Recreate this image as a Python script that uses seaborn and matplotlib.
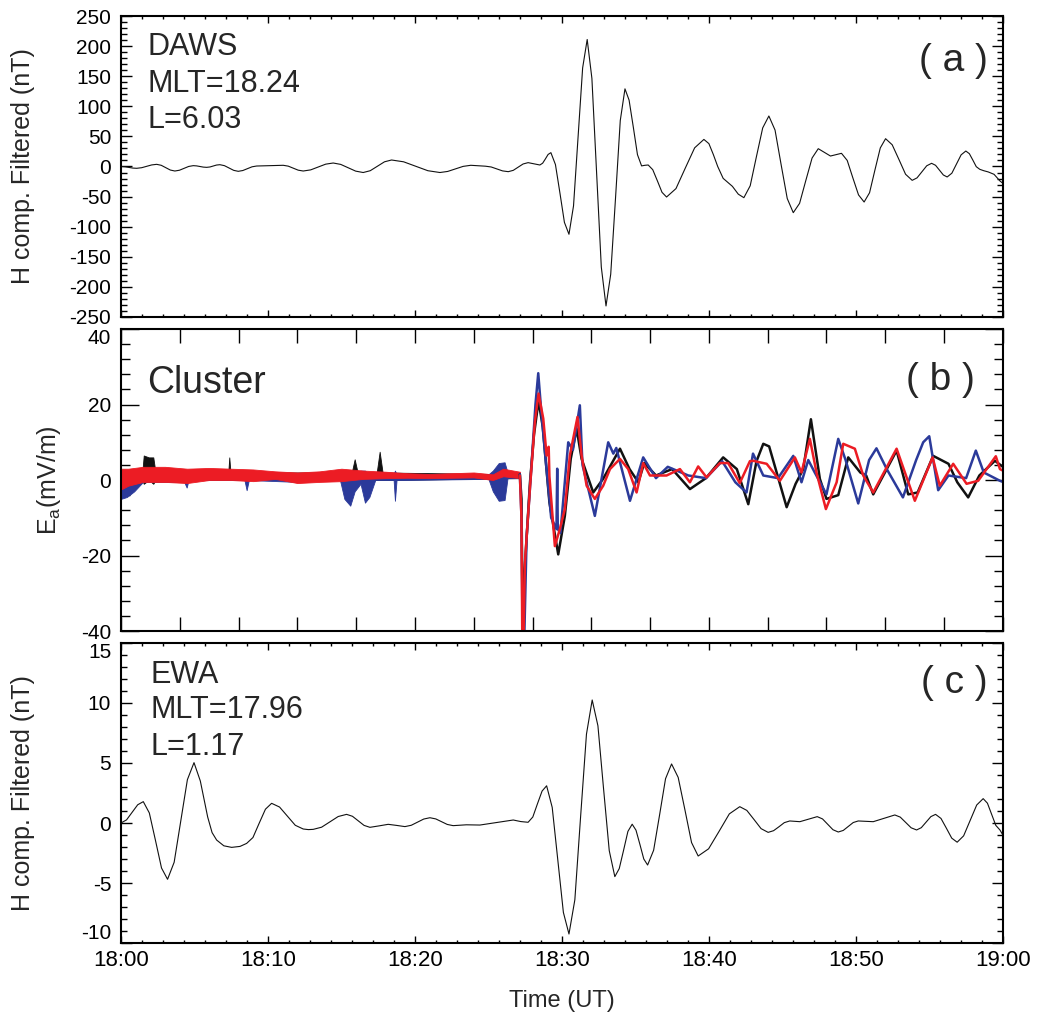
import numpy as np
import pandas as pd
import matplotlib
matplotlib.use("Agg")
import matplotlib.pyplot as plt
from matplotlib.ticker import MultipleLocator, FixedLocator, FixedFormatter
import seaborn as sns

# ---------------- data (minutes after 18:00 UT) ----------------
daws_t = [0.0, 0.27, 0.53, 0.80, 1.07, 1.41, 1.75, 2.09, 2.43, 2.74, 3.05, 3.36, 3.67, 3.98, 4.3,
          4.61, 4.92, 5.15, 5.38, 5.6, 5.83, 6.06, 6.28, 6.5, 6.73, 7.04, 7.36, 7.67, 7.98, 8.29,
          8.6, 8.92, 9.23, 10.1, 11.04, 11.38, 11.72, 12.06, 12.4, 12.91, 13.42, 13.93, 14.44,
          14.95, 15.46, 15.97, 16.48, 16.96, 17.45, 17.93, 18.41, 19.23, 20.06, 20.88, 21.7,
          22.23, 22.75, 23.28, 23.8, 24.3, 24.8, 25.19, 25.58, 25.96, 26.35, 26.69, 27.03,
          27.36, 27.7, 28.1, 28.5, 28.69, 28.88, 29.06, 29.25, 29.56, 29.87, 30.17, 30.48,
          30.79, 31.1, 31.41, 31.72, 32.04, 32.36, 32.68, 33.0, 33.32, 33.65, 33.97, 34.29,
          34.57, 34.86, 35.14, 35.42, 35.65, 35.87, 36.18, 36.5, 36.81, 37.12, 37.76, 38.39,
          39.03, 39.66, 40.0, 40.3, 40.6, 40.97, 41.6, 42.0, 42.38, 42.81, 43.23, 43.66, 44.08,
          44.5, 44.91, 45.33, 45.74, 46.17, 46.59, 47.02, 47.44, 47.85, 48.27, 48.65, 49.02,
          49.41, 49.79, 50.18, 50.56, 50.93, 51.29, 51.66, 52.02, 52.47, 52.93, 53.38, 53.83,
          54.16, 54.49, 54.82, 55.15, 55.42, 55.68, 55.95, 56.21, 56.53, 56.85, 57.16, 57.48,
          57.72, 57.96, 58.19, 58.43, 58.7, 59.0, 59.4, 59.8, 60.0]
daws_h = [0, -0.4, -1.5, -2.6, -3, -2.0, 0.3, 2.6, 3.6, 2.0, -1.95, -5.9, -7.5, -6.2, -3.05,
          0.1, 1.4, 1.0, 0, -1.0, -1.4, -0.76, 0.8, 2.4, 3, 1.4, -2.5, -6.4, -8, -6.7,
          -3.6, -0.5, 0.8, 1.4, 2, 0.6, -2.75, -6.1, -7.5, -5.6, -0.85, 3.9, 5.8,
          3.5, -2.1, -7.7, -10, -7.0, 0.4, 7.8, 10.8, 7.8, 0.4, -7.0, -10,
          -8.2, -4, 0.2, 2, 1.3, 0.5, -0.8, -4.05, -7.3, -8.6, -6.4, -1.1,
          4.2, 6.4, 4.5, 2.5, 5.5, 12.75, 20, 23, 3.2, -44.8, -92.8, -112.6,
          -65.4, 49.2, 163.8, 211, 146.4, -10.4, -167.1, -231.7, -179, -51.4, 76.3, 129,
          110.3, 65, 19.7, 1, 2, 2.5, -5.3, -24.1, -42.9, -50.7, -36.7, -2.85,
          31, 45, 38, 20, 0, -19.7, -33, -46, -51.8, -32, 16, 64.1, 83.9,
          60.5, 3.6, -53.2, -76.7, -61.2, -23.6, 14.1, 29.6, 23.5, 17.4, 19.6, 21.9,
          10.1, -18.6, -47.2, -59, -43.6, -6.4, 30.8, 46.2, 36.1, 11.6, -12.9, -23,
          -18.9, -8.9, 1.2, 5.3, 2, -6, -14.1, -17.4, -11.1, 4.2, 19.4, 25.7,
          21.3, 10.5, -0.3, -4.7, -7, -9, -13, -24, -28]

ewa_t = [0.0, 0.38, 0.76, 1.14, 1.52, 1.93, 2.35, 2.76, 3.17, 3.62, 4.07, 4.52, 4.97, 5.4, 5.9,
         6.2, 6.51, 7.0, 7.53, 8.1, 8.55, 8.98, 9.4, 9.83, 10.25, 10.79, 11.33, 11.86, 12.4,
         12.75, 13.08, 13.65, 14.22, 14.78, 15.35, 15.75, 16.15, 16.54, 16.94, 17.56, 18.18,
         18.75, 19.32, 19.75, 20.17, 20.6, 21.02, 21.42, 21.81, 22.2, 22.6, 23.5, 24.42, 25.55,
         26.69, 27.2, 27.7, 28.02, 28.33, 28.65, 28.96, 29.34, 29.72, 30.1, 30.48, 30.88, 31.27,
         31.67, 32.06, 32.45, 32.83, 33.22, 33.6, 33.9, 34.19, 34.49, 34.78, 35.04, 35.31, 35.57,
         35.83, 36.24, 36.65, 37.05, 37.46, 37.91, 38.37, 38.82, 39.27, 39.98, 40.69, 41.39,
         42.1, 42.58, 43.07, 43.55, 44.03, 44.4, 44.77, 45.13, 45.5, 45.85, 46.19, 46.78, 47.37,
         47.73, 48.09, 48.44, 48.8, 49.14, 49.48, 49.82, 50.16, 50.67, 51.18, 51.92, 52.65,
         53.02, 53.39, 53.76, 54.13, 54.45, 54.78, 55.1, 55.42, 55.79, 56.16, 56.52, 56.89,
         57.33, 57.78, 58.22, 58.66, 58.95, 59.23, 59.52, 59.8, 60.0]
ewa_h = [0, 0.26, 0.89, 1.52, 1.78, 0.84, -1.46, -3.75, -4.69, -3.27, 0.17, 3.61, 5.03, 3.5, 0.5,
         -0.8, -1.42, -1.9, -2.03, -1.95, -1.7, -1.21, -0.03, 1.15, 1.64, 1.33, 0.57, -0.19, -0.5,
         -0.55, -0.53, -0.35, 0.1, 0.54, 0.72, 0.56, 0.18, -0.2, -0.36, -0.24, -0.11,
         -0.2, -0.3, -0.19, 0.07, 0.33, 0.44, 0.34, 0.11, -0.12, -0.22, -0.15, -0.17, 0.04,
         0.25, 0.12, 0.06, 0.5, 1.58, 2.66, 3.1, 1.3, -3.08, -7.45, -9.25, -6.4, 0.5,
         7.4, 10.25, 8.1, 2.9, -2.3, -4.47, -3.8, -2.3, -0.7, -0.1, -0.6, -1.8, -3.0,
         -3.5, -2.27, 0.71, 3.69, 4.92, 3.8, 1.09, -1.63, -2.75, -2.15, -0.7, 0.76,
         1.36, 1.05, 0.29, -0.47, -0.78, -0.64, -0.31, 0.03, 0.17, 0.14, 0.11, 0.32, 0.53,
         0.34, -0.11, -0.56, -0.75, -0.62, -0.29, 0.04, 0.17, 0.14, 0.11, 0.39, 0.67,
         0.49, 0.05, -0.4, -0.58, -0.39, 0.07, 0.53, 0.72, 0.38, -0.44, -1.26, -1.6,
         -1.07, 0.22, 1.5, 2.03, 1.65, 0.73, -0.2, -0.58, -1.0]

# Cluster E_a, quiet interval: noise envelopes (t, low, high)
black_env_t = [0.0, 1.45, 1.55, 1.9, 2.2, 2.35, 7.3, 7.37, 7.45, 15.7, 15.9, 16.1, 17.4, 17.6, 17.8, 27.14]
black_env_lo = [0.0, 0.0, -1.0, 0.0, -1.0, 0.0, 0.0, 0.0, 0.0, 0.0, 0.0, 0.0, 0.0, 0.0, 0.0, 0.5]
black_env_hi = [2.0, 2.0, 6.5, 6.0, 6.0, 2.0, 2.0, 6.0, 2.0, 2.0, 5.5, 2.0, 2.0, 7.5, 2.0, 1.5]

blue_env_t = [0.0, 0.4, 0.9, 1.5, 4.3, 4.47, 4.6, 8.4, 8.55, 8.7, 12.0, 14.9, 15.2, 15.6, 15.9,
              16.3, 16.6, 16.9, 17.3, 18.55, 18.64, 18.75, 25.0, 25.3, 25.7, 26.1, 26.3, 27.14]
blue_env_lo = [-5.0, -4.5, -3.0, -0.5, -0.5, -2.0, 0.0, 0.0, -2.7, 0.0, -0.5, 0.0, -5.0, -6.8, -3.0,
               -1.0, -6.0, -4.5, 0.0, 0.0, -5.5, 0.0, 0.3, -3.0, -5.5, -5.3, 0.5, 0.5]
blue_env_hi = [2.5, 2.0, 2.0, 1.5, 2.0, 1.5, 2.0, 2.0, 1.5, 1.8, 1.5, 1.5, 1.5, 2.5, 2.0,
               2.5, 2.5, 1.5, 1.5, 1.5, 2.5, 1.5, 1.5, 2.5, 4.5, 4.7, 2.0, 2.0]

red_env_t = [0.0, 0.5, 1.5, 3.0, 4.5, 6.0, 7.5, 9.0, 10.5, 12.0, 13.5, 15.0, 16.5, 18.0, 19.5,
             21.0, 22.5, 24.0, 25.3, 26.0, 27.14]
red_env_lo = [-2.5, -1.5, -0.5, -0.5, -0.8, 0.0, 0.0, -0.3, 0.3, -0.8, -0.5, -0.3, 0.3, 0.5, 0.6,
              0.5, 0.6, 0.7, 0.0, 1.0, 0.5]
red_env_hi = [3.0, 3.0, 3.5, 3.5, 3.0, 3.2, 3.0, 2.8, 2.3, 2.0, 2.3, 3.0, 2.5, 2.2, 1.8,
              1.6, 1.8, 2.0, 1.5, 3.0, 2.2]

# Cluster E_a, active interval
black_t = [27.14, 27.25, 27.32, 27.45, 27.82, 28.1, 28.41, 28.7, 29.15, 29.75, 30.2, 30.6, 31.0,
           31.34, 32.13, 32.8, 33.95, 34.6, 35.2, 35.6, 36.4, 37.5, 38.71, 39.8, 40.97, 41.9,
           42.68, 43.24, 43.7, 44.1, 45.29, 45.9, 46.42, 46.94, 47.55, 48.0, 48.8, 49.48, 50.3,
           50.7, 51.18, 52.77, 53.56, 54.2, 55.26, 56.3, 56.9, 57.64, 58.4, 59.46, 60.0]
black_e = [1.5, -5, -35, -25, -1, 12, 21, 14, -5.9, -19.7, -9.5, 5.6, 13.6,
           5.6, -3.3, 0.3, 8.3, 2.9, -0.6, 4.5, 1.2, 2.9, -2.4, 0.5, 6, 2.9,
           -6.4, 5, 9.6, 8.9, -7.2, -1, 2.9, 16.1, 0.3, -5, -4, 6, 2,
           1.2, -3.8, 7.8, -3.8, -3.3, 6.4, 4.3, -0.6, -4.6, 1.2, 5.1, 3.5]

blue_t = [27.14, 27.25, 27.32, 27.45, 27.6, 27.9, 28.2, 28.39, 28.6, 28.9, 29.27, 29.63, 29.68,
          29.72, 29.9, 30.43, 30.75, 31.22, 31.4, 32.24, 33.15, 33.5, 33.7, 34.63, 35.53, 36.4,
          37.2, 38.6, 39.8, 40.9, 41.8, 42.56, 43.0, 43.7, 44.7, 45.74, 46.3, 46.76, 47.2, 48.0,
          48.8, 49.3, 50.16, 50.9, 51.4, 52.1, 53.2, 54.1, 54.58, 54.99, 55.6, 56.3, 57.5,
          58.16, 58.7, 59.8, 60.0]
blue_e = [1.5, -10, -40, -40, -15, 2, 20, 28.3, 18, 5, -10, -13, 3,
          -13, -14, 10, 8, 19.8, 4, -9.5, 10, 7, 8.5, -5.5, 6, 0.5,
          3.5, 1.2, 0.5, 5, -0.6, -3.3, 7, 1.2, 0.5, 6.4, -0.6, 5.3, 2, -3.8,
          10.9, 5.3, -6.2, 5.3, 8.4, 2.9, -4.6, 5.3, 10, 11.6, -2.7, 1.2, 0.5,
          7.8, 2, -0.2, -0.5]

red_t = [27.14, 27.25, 27.30, 27.40, 27.48, 27.82, 28.16, 28.41, 28.73, 28.96, 29.1, 29.15, 29.2,
         29.52, 29.86, 30.2, 30.54, 31.06, 31.34, 31.68, 32.24, 32.81, 33.27, 33.95, 34.51,
         35.08, 35.53, 35.99, 37.12, 38.03, 38.71, 39.27, 39.84, 40.75, 41.31, 42.1, 42.79,
         43.0, 43.93, 44.83, 45.85, 46.3, 46.87, 47.32, 47.96, 48.69, 49.14, 49.93, 50.5,
         51.18, 52.77, 54.01, 55.22, 55.71, 56.62, 57.53, 58.32, 59.52, 59.8, 60.0]
red_e = [1.2, -10, -40, -40, -22, -2.4, 15.4, 22.9, 16.3, 6.5, 8.8, 1.0, -1.5,
         -17.5, -13, -7.7, 6.5, 16.7, 6.5, -1.5, -5, -1.5, 2.9, 5.6, 2.9,
         -3.3, 4.5, 1.2, 1.2, 2.9, -0.6, 3.6, 0.7, 4.5, 4.5, -0.8, 5,
         5.1, 4.3, -0.2, 6, 2, 10.9, 2, -7.7, -0.6, 9.6, 8.3, 1.2,
         -3.3, 8.3, -5.5, 6, -1.5, 4.3, -1, -0.2, 6.3, 2.9, 2.5]

time_ticks = [0, 10, 20, 30, 40, 50, 60]
time_labels = ["18:00", "18:10", "18:20", "18:30", "18:40", "18:50", "19:00"]
ticks_a = [-250, -200, -150, -100, -50, 0, 50, 100, 150, 200, 250]
ticks_b = [-40, -20, 0, 20, 40]
ticks_c = [-10, -5, 0, 5, 10, 15]

# ---------------- styling ----------------
sns.set_theme(style="ticks")
plt.rcParams["font.family"] = ["Liberation Sans", "DejaVu Sans"]
plt.rcParams["axes.linewidth"] = 1.5

C_BLACK = "#111111"
C_BLUE = "#2b3a9a"
C_RED = "#ec1c24"

fig = plt.figure(figsize=(10.4, 10.14), dpi=100)
L, W = 0.1163, 0.848
axa = fig.add_axes([L, 0.6874, W, 0.2968])
axb = fig.add_axes([L, 0.3777, W, 0.2978])
axc = fig.add_axes([L, 0.0700, W, 0.2959])


def style(ax, yticks, ymin, ymaj_len, ymin_len, xmaj, xmin, xmaj_len, xmin_len):
    ax.set_xlim(0, 60)
    ax.set_ylim(yticks[0], yticks[-1])
    ax.xaxis.set_major_locator(FixedLocator(list(np.arange(0, 60.001, xmaj))))
    if xmin:
        ax.xaxis.set_minor_locator(MultipleLocator(xmin))
    ax.yaxis.set_major_locator(FixedLocator(yticks))
    ax.yaxis.set_major_formatter(FixedFormatter([f"{v:g}" for v in yticks]))
    ax.yaxis.set_minor_locator(MultipleLocator(ymin))
    ax.tick_params(axis="both", which="both", direction="in", top=True, right=True,
                   colors="black", width=1.0)
    ax.tick_params(axis="y", which="major", length=ymaj_len, labelsize=15, pad=7)
    ax.tick_params(axis="y", which="minor", length=ymin_len)
    ax.tick_params(axis="x", which="major", length=xmaj_len, labelsize=16, pad=5)
    ax.tick_params(axis="x", which="minor", length=xmin_len)
    for s in ax.spines.values():
        s.set_color("black")
        s.set_linewidth(1.5)


# ---- panel (a)
sns.lineplot(x=daws_t, y=daws_h, ax=axa, color=C_BLACK, lw=0.8, sort=False, estimator=None)
style(axa, ticks_a, 10, 8, 4.3, 10, 10 / 7, 5, 2.5)
axa.set_xticklabels([])
axa.set_ylabel("H comp. Filtered (nT)", fontsize=18)
axa.yaxis.set_label_coords(-0.098, 0.5)
for txt, yy in zip(["DAWS", "MLT=18.24", "L=6.03"], [0.870, 0.748, 0.628]):
    axa.text(0.03, yy, txt, transform=axa.transAxes, fontsize=22, va="baseline", ha="left")
axa.text(0.983, 0.817, "( a )", transform=axa.transAxes, fontsize=28, va="baseline", ha="right")

# ---- panel (b)
axb.fill_between(black_env_t, black_env_lo, black_env_hi, color=C_BLACK, lw=0.6)
axb.fill_between(blue_env_t, blue_env_lo, blue_env_hi, color=C_BLUE, lw=0.6)
axb.fill_between(red_env_t, red_env_lo, red_env_hi, color=C_RED, lw=0.6)
sns.lineplot(x=black_t, y=black_e, ax=axb, color=C_BLACK, lw=1.8, sort=False, estimator=None)
sns.lineplot(x=blue_t, y=blue_e, ax=axb, color=C_BLUE, lw=1.8, sort=False, estimator=None)
sns.lineplot(x=red_t, y=red_e, ax=axb, color=C_RED, lw=1.8, sort=False, estimator=None)
style(axb, ticks_b, 4, 13, 6.5, 4, None, 10, 0)
axb.set_xticklabels([])
axb.set_ylabel(r"E$_\mathregular{a}$(mV/m)", fontsize=18)
axb.yaxis.set_label_coords(-0.066, 0.5)
axb.text(0.03, 0.788, "Cluster", transform=axb.transAxes, fontsize=27, va="baseline", ha="left")
axb.text(0.968, 0.798, "( b )", transform=axb.transAxes, fontsize=28, va="baseline", ha="right")

# ---- panel (c)
sns.lineplot(x=ewa_t, y=ewa_h, ax=axc, color=C_BLACK, lw=0.8, sort=False, estimator=None)
style(axc, ticks_c, 1, 8, 4.3, 10, 10 / 7, 5, 2.5)
axc.xaxis.set_major_locator(FixedLocator(time_ticks))
axc.xaxis.set_major_formatter(FixedFormatter(time_labels))
axc.set_ylabel("H comp. Filtered (nT)", fontsize=18)
axc.yaxis.set_label_coords(-0.098, 0.5)
axc.set_xlabel("Time (UT)", fontsize=17, labelpad=14)
for txt, yy in zip(["EWA", "MLT=17.96", "L=1.17"], [0.867, 0.750, 0.627]):
    axc.text(0.033, yy, txt, transform=axc.transAxes, fontsize=22, va="baseline", ha="left")
axc.text(0.983, 0.833, "( c )", transform=axc.transAxes, fontsize=28, va="baseline", ha="right")

# keep edge tick labels of neighbouring panels apart (as in the original)
fig.canvas.draw()
for ax, first_va, last_va in ((axa, "center_baseline", "center_baseline"),
                              (axb, "center_baseline", "top"),
                              (axc, "bottom", "top")):
    ticks = ax.yaxis.get_major_ticks()
    ticks[0].label1.set_verticalalignment(first_va)
    ticks[-1].label1.set_verticalalignment(last_va)

fig.savefig("out.png", dpi=100, facecolor="white")
